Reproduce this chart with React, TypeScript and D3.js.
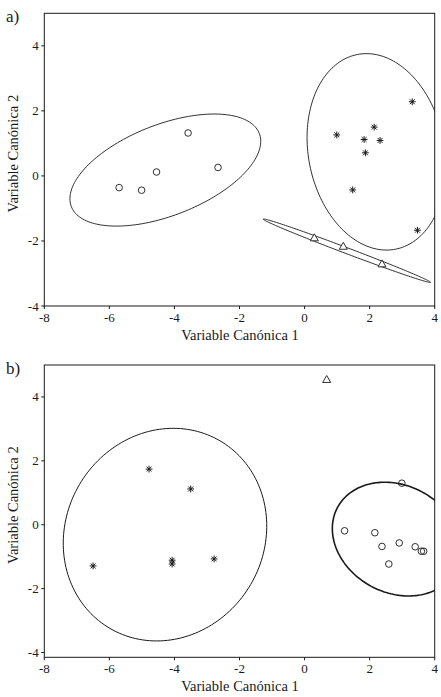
import React from "react";
import * as d3 from "d3";

// panel a) points
const aCircles = [[-5.70, -0.36], [-5.01, -0.44], [-4.55, 0.12], [-3.58, 1.32], [-2.66, 0.26]];
const aStars = [[0.99, 1.26], [1.83, 1.12], [2.14, 1.5], [2.32, 1.09], [1.87, 0.71], [3.31, 2.28], [1.48, -0.43], [3.47, -1.67]];
const aTriangles = [[0.3, -1.94], [1.19, -2.2], [2.38, -2.74]];
// ellipses: [cx, cy, semi-major, semi-minor, angle deg]
const aEllipses = [
  [-4.28, 0.18, 3.1, 1.4, 21.3],
  [2.21, 0.74, 3.05, 2.09, 101.1],
  [1.3, -2.3, 2.75, 0.09, -20.7],
];

// panel b) points
const bCircles = [[2.99, 1.3], [1.23, -0.19], [2.16, -0.25], [2.38, -0.68], [2.91, -0.57], [2.59, -1.23], [3.4, -0.69], [3.59, -0.83], [3.66, -0.83]];
const bStars = [[-4.78, 1.74], [-3.5, 1.12], [-6.5, -1.29], [-4.07, -1.11], [-4.07, -1.23], [-2.78, -1.07]];
const bTriangles = [[0.68, 4.51]];
const bEllipses = [
  [-4.29, -0.31, 3.39, 3.06, 63.7],
  [2.83, -0.45, 2.07, 1.67, -30.2],
];
const bEllipseWidths = [1, 1.6];

const xTicks = [-8, -6, -4, -2, 0, 2, 4];
const yTicks = [-4, -2, 0, 2, 4];

const W = 441;
const H = 697;
const left = 44.3;
const right = 434.7;
const ink = "#1a1a1a";
const font = "'Liberation Serif', 'DejaVu Serif', serif";

const Panel = ({ id, label, top, bottom, yMin, circles, stars, triangles, ellipses, widths }: any) => {
  const x = d3.scaleLinear().domain([-8, 4]).range([left, right]);
  const y = d3.scaleLinear().domain([yMin, 5]).range([bottom, top]);

  const ellipsePath = (e: number[]) => {
    const [cx, cy, a, b, deg] = e;
    const th = (deg * Math.PI) / 180;
    const pts = d3.range(0, 360, 2).map((t) => {
      const r = (t * Math.PI) / 180;
      return [
        cx + a * Math.cos(r) * Math.cos(th) - b * Math.sin(r) * Math.sin(th),
        cy + a * Math.cos(r) * Math.sin(th) + b * Math.sin(r) * Math.cos(th),
      ];
    });
    return d3
      .line()
      .x((d) => x(d[0]))
      .y((d) => y(d[1]))
      .curve(d3.curveLinearClosed)(pts as any) as string;
  };

  const star = (cx: number, cy: number) => {
    const s = 3.4;
    const d = s * 0.72;
    return `M${cx - s},${cy}L${cx + s},${cy}M${cx},${cy - s}L${cx},${cy + s}M${cx - d},${cy - d}L${cx + d},${cy + d}M${cx - d},${cy + d}L${cx + d},${cy - d}`;
  };

  const tri = d3.symbol().type(d3.symbolTriangle).size(28);

  return (
    <g>
      <defs>
        <clipPath id={id}>
          <rect x={left} y={top} width={right - left} height={bottom - top} />
        </clipPath>
      </defs>
      <text x={6} y={top + 9} fontSize={17} fontFamily={font} fill={ink}>
        {label}
      </text>
      <rect x={left} y={top} width={right - left} height={bottom - top} fill="none" stroke={ink} strokeWidth={1} />
      {xTicks.map((t) => (
        <g key={"x" + t}>
          <line x1={x(t)} x2={x(t)} y1={bottom} y2={bottom + 3} stroke={ink} />
          <text x={x(t)} y={bottom + 16} fontSize={13} fontFamily={font} fill={ink} textAnchor="middle">
            {t}
          </text>
        </g>
      ))}
      {yTicks.map((t) => (
        <g key={"y" + t}>
          <line x1={left - 3} x2={left} y1={y(t)} y2={y(t)} stroke={ink} />
          <text x={38.7} y={y(t) + 4.5} fontSize={13} fontFamily={font} fill={ink} textAnchor="end">
            {t}
          </text>
        </g>
      ))}
      <text x={240} y={bottom + 34} fontSize={14.5} fontFamily={font} fill={ink} textAnchor="middle">
        Variable Canónica 1
      </text>
      <text
        transform={`translate(18,${(top + bottom) / 2 - 6}) rotate(-90)`}
        fontSize={14.5}
        fontFamily={font}
        fill={ink}
        textAnchor="middle"
      >
        Variable Canónica 2
      </text>
      <g clipPath={`url(#${id})`}>
        {ellipses.map((e: number[], i: number) => (
          <path key={i} d={ellipsePath(e)} fill="none" stroke={ink} strokeWidth={widths ? widths[i] : 0.9} />
        ))}
        {circles.map((p: number[], i: number) => (
          <circle key={i} cx={x(p[0])} cy={y(p[1])} r={3.3} fill="none" stroke={ink} strokeWidth={0.9} />
        ))}
        {stars.map((p: number[], i: number) => (
          <path key={i} d={star(x(p[0]), y(p[1]))} stroke={ink} strokeWidth={1} fill="none" />
        ))}
        {triangles.map((p: number[], i: number) => (
          <path
            key={i}
            d={tri() as string}
            transform={`translate(${x(p[0])},${y(p[1]) - 0.5})`}
            fill="white"
            stroke={ink}
            strokeWidth={0.9}
          />
        ))}
      </g>
    </g>
  );
};

export default function App() {
  return (
    <svg width={W} height={H} style={{ position: "absolute", left: 0, top: 0, background: "white" }}>
      <rect width={W} height={H} fill="white" />
      <Panel
        id="clipA"
        label="a)"
        top={13.3}
        bottom={306}
        yMin={-4}
        circles={aCircles}
        stars={aStars}
        triangles={aTriangles}
        ellipses={aEllipses}
      />
      <Panel
        id="clipB"
        label="b)"
        top={365}
        bottom={657.3}
        yMin={-4.15}
        circles={bCircles}
        stars={bStars}
        triangles={bTriangles}
        ellipses={bEllipses}
        widths={bEllipseWidths}
      />
    </svg>
  );
}
